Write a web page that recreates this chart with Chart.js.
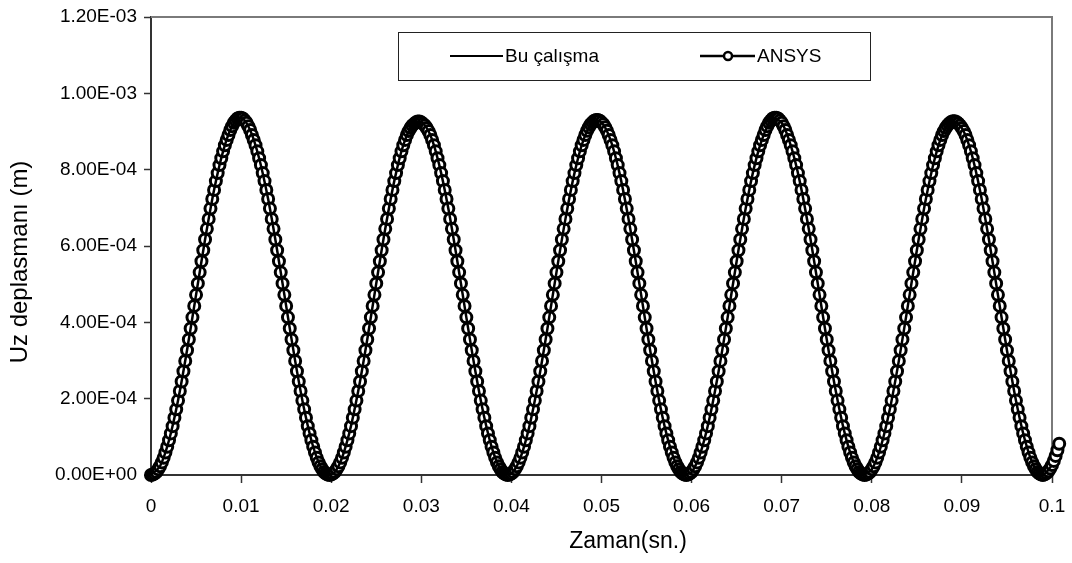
<!DOCTYPE html>
<html>
<head>
<meta charset="utf-8">
<script src="https://cdn.jsdelivr.net/npm/chart.js@4"></script>
<style>
  body { margin: 0; background: #fff; }
  #wrap { width: 1072px; height: 563px; position: relative; }
</style>
</head>
<body>
<div id="wrap"><canvas id="myChartLine"></canvas></div>
<script>
// values in micrometres (1E-06 m); axis labels are written in metres
const timeStep = 0.0002; // ANSYS output step (s)
const ansysUm = [
  0,1,4,8,15,23,33,45,59,74, 91,109,128,150,172,195,220,245,272,299,
  327,355,384,413,443,472,502,531,560,589, 617,645,671,698,723,747,770,791,812,830,
  848,864,878,891,904,914,923,929,934,936, 936,934,929,923,914,904,891,878,864,848,
  830,812,791,770,747,723,698,671,645,617, 589,560,531,502,472,443,413,384,355,327,
  299,272,245,220,195,172,150,128,109,91, 74,59,45,33,23,15,8,4,1,
  0,1,4,8,15,23,33,45,59,74, 91,109,128,150,172,195,220,245,272,299,
  327,355,384,413,443,472,502,531,560,589, 617,645,671,698,723,747,770,791,812,830,
  848,864,878,891,901,909,916,920,924,926, 926,924,920,916,909,901,891,878,864,848,
  830,812,791,770,747,723,698,671,645,617, 589,560,531,502,472,443,413,384,355,327,
  299,272,245,220,195,172,150,128,109,91, 74,59,45,33,23,15,8,4,1,
  0,1,4,8,15,23,33,45,59,74, 91,109,128,150,172,195,220,245,272,299,
  327,355,384,413,443,472,502,531,560,589, 617,645,671,698,723,747,770,791,812,830,
  848,864,878,891,902,911,919,924,928,930, 930,928,924,919,911,902,891,878,864,848,
  830,812,791,770,747,723,698,671,645,617, 589,560,531,502,472,443,413,384,355,327,
  299,272,245,220,195,172,150,128,109,91, 74,59,45,33,23,15,8,4,1,
  0,1,4,8,15,23,33,45,59,74, 91,109,128,150,172,195,220,245,272,299,
  327,355,384,413,443,472,502,531,560,589, 617,645,671,698,723,747,770,791,812,830,
  848,864,878,891,904,914,923,929,934,936, 936,934,929,923,914,904,891,878,864,848,
  830,812,791,770,747,723,698,671,645,617, 589,560,531,502,472,443,413,384,355,327,
  299,272,245,220,195,172,150,128,109,91, 74,59,45,33,23,15,8,4,1,
  0,1,4,8,15,23,33,45,59,74, 91,109,128,150,172,195,220,245,272,299,
  327,355,384,413,443,472,502,531,560,589, 617,645,671,698,723,747,770,791,812,830,
  848,864,878,891,901,909,916,921,925,927, 927,925,921,916,909,901,891,878,864,848,
  830,812,791,770,747,723,698,671,645,617, 589,560,531,502,472,443,413,384,355,327,
  299,272,245,220,195,172,150,128,109,91, 74,59,45,33,23,15,8,4,1,
  0,2,5,10,17,26,37,50,65,82
];

// this study, every 0.001 s
const buTime = [
  0,0.001,0.002,0.003,0.004,0.005,0.006,0.007,0.008,0.009,
  0.010,0.011,0.012,0.013,0.014,0.015,0.016,0.017,0.018,0.019,
  0.020,0.021,0.022,0.023,0.024,0.025,0.026,0.027,0.028,0.029,
  0.030,0.031,0.032,0.033,0.034,0.035,0.036,0.037,0.038,0.039,
  0.040,0.041,0.042,0.043,0.044,0.045,0.046,0.047,0.048,0.049,
  0.050,0.051,0.052,0.053,0.054,0.055,0.056,0.057,0.058,0.059,
  0.060,0.061,0.062,0.063,0.064,0.065,0.066,0.067,0.068,0.069,
  0.070,0.071,0.072,0.073,0.074,0.075,0.076,0.077,0.078,0.079,
  0.080,0.081,0.082,0.083,0.084,0.085,0.086,0.087,0.088,0.089,
  0.090,0.091,0.092,0.093,0.094,0.095,0.096,0.097,0.098,0.099,0.100
];
const buUm = [
  0,23,91,195,327,472,617,747,848,914,
  936,904,830,723,589,443,299,172,74,15,
  1,33,109,220,355,502,645,770,864,916,
  924,891,812,698,560,413,272,150,59,8,
  4,45,128,245,384,531,671,791,878,924,
  924,878,791,671,531,384,245,128,45,4,
  8,59,150,272,413,560,698,812,891,934,
  923,864,770,645,502,355,220,109,33,1,
  15,74,172,299,443,589,723,830,901,927,
  909,848,747,617,472,327,195,91,23,0,26
];

const xTicks = [0,0.01,0.02,0.03,0.04,0.05,0.06,0.07,0.08,0.09,0.1];
const xTickLabels = ['0','0.01','0.02','0.03','0.04','0.05','0.06','0.07','0.08','0.09','0.1'];
const yTicks = [0,200,400,600,800,1000,1200];
const yTickLabels = ['0.00E+00','2.00E-04','4.00E-04','6.00E-04','8.00E-04','1.00E-03','1.20E-03'];

const fontFam = '"Liberation Sans", Arial, sans-serif';

const plotFrame = {
  id: 'plotFrame',
  beforeDatasetsDraw(chart) {
    const a = chart.chartArea, c = chart.ctx;
    c.save();
    c.strokeStyle = '#7a7a7a';
    c.lineWidth = 2;
    c.beginPath();
    c.moveTo(a.left, a.top);
    c.lineTo(a.right, a.top);
    c.lineTo(a.right, a.bottom);
    c.stroke();
    c.restore();
  },
  afterDraw(chart) {
    const c = chart.ctx;
    const ds = chart.data.datasets;
    c.save();
    // legend box
    c.fillStyle = '#fff';
    c.fillRect(398, 32, 472, 48);
    c.strokeStyle = '#222';
    c.lineWidth = 1;
    c.strokeRect(398.5, 32.5, 472, 48);
    c.font = '19px ' + fontFam;
    c.fillStyle = '#000';
    c.textBaseline = 'middle';
    c.strokeStyle = '#000';
    c.lineWidth = 2;
    c.beginPath(); c.moveTo(450, 56); c.lineTo(503, 56); c.stroke();
    c.fillText(ds[0].label, 505, 57);
    c.lineWidth = 2.5;
    c.beginPath(); c.moveTo(700, 56); c.lineTo(755, 56); c.stroke();
    c.beginPath(); c.arc(728, 56, 4, 0, Math.PI * 2);
    c.fillStyle = '#fff'; c.fill(); c.stroke();
    c.fillStyle = '#000';
    c.fillText(ds[1].label, 757, 57);
    // axis titles
    c.textAlign = 'center';
    c.font = '23px ' + fontFam;
    c.fillText('Zaman(sn.)', 628, 542);
    c.font = '24px ' + fontFam;
    c.translate(20, 262);
    c.rotate(-Math.PI / 2);
    c.fillText('Uz deplasmanı (m)', 0, 0);
    c.restore();
  }
};

const ctx = document.getElementById('myChartLine');
new Chart(ctx, {
  type: 'line',
  data: {
    datasets: [{
      label: 'Bu çalışma',
      data: buTime.map((t, i) => ({ x: t, y: buUm[i] })),
      borderColor: '#000',
      borderWidth: 2.5,
      pointRadius: 0,
      tension: 0.3,
      clip: false
    },
    {
      label: 'ANSYS',
      data: ansysUm.map((v, i) => ({ x: i * timeStep, y: v })),
      borderColor: '#000',
      borderWidth: 2.5,
      pointRadius: 5.5,
      pointBorderWidth: 3,
      pointBackgroundColor: '#fff',
      pointBorderColor: '#000',
      clip: false
    }
    ]
  },
  options: {
    responsive: true,
    maintainAspectRatio: false,
    animation: false,
    events: [],
    layout: { padding: { top: 17, right: 20, left: 0, bottom: 0 } },
    plugins: { legend: { display: false }, tooltip: { enabled: false } },
    scales: {
      x: {
        type: 'linear',
        // range fixed here (not via min/max) so the last ANSYS points past 0.1 still draw
        afterDataLimits: s => { s.min = 0; s.max = 0.1; },
        afterBuildTicks: s => { s.ticks = xTicks.map(v => ({ value: v })); },
        afterFit: s => { s.height = 88; s.paddingLeft = 0; s.paddingRight = 0; },
        ticks: {
          callback: (v, i) => xTickLabels[i],
          font: { size: 19, family: fontFam },
          color: '#000',
          padding: 12,
          maxRotation: 0,
          autoSkip: false
        },
        grid: { drawOnChartArea: false, tickLength: 8, tickColor: '#333', tickWidth: 1.5 },
        border: { color: '#333', width: 2 }
      },
      y: {
        min: 0,
        max: 1200,
        afterBuildTicks: s => { s.ticks = yTicks.map(v => ({ value: v })); },
        afterFit: s => { s.width = 151; s.paddingTop = 0; s.paddingBottom = 0; },
        ticks: {
          callback: (v, i) => yTickLabels[i],
          font: { size: 19, family: fontFam },
          color: '#000',
          padding: 7,
          autoSkip: false
        },
        grid: { drawOnChartArea: false, tickLength: 7, tickColor: '#333', tickWidth: 1.5 },
        border: { color: '#333', width: 2 }
      }
    }
  },
  plugins: [plotFrame]
});
</script>
</body>
</html>
